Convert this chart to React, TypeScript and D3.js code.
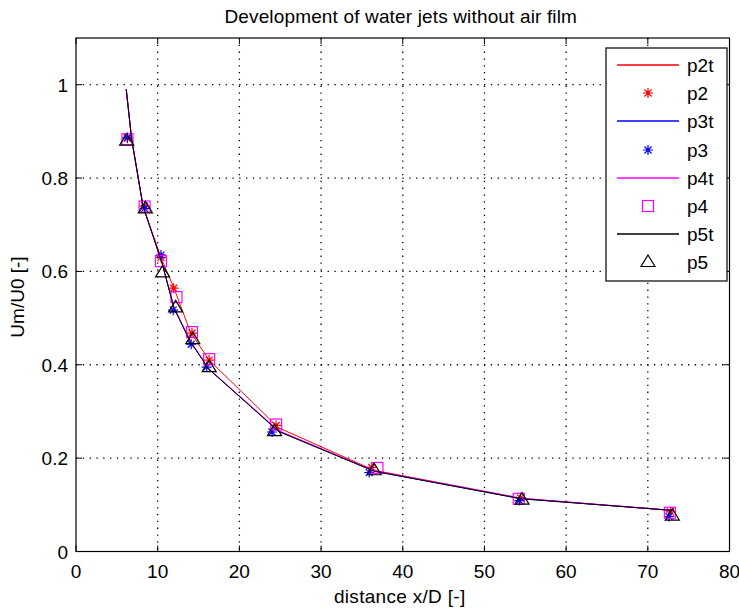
import React, { useRef, useEffect } from 'react'
import * as d3 from 'd3'

// measured points, x/D and Um/U0
const p2x = [6.3, 8.4, 10.4, 11.95, 14.2, 16.3, 24.5, 36.2, 54.4, 72.8]
const p2y = [0.885, 0.74, 0.63, 0.564, 0.468, 0.41, 0.27, 0.18, 0.115, 0.085]
const p3x = [6.3, 8.4, 10.4, 11.9, 14.1, 16.0, 24.0, 35.9, 54.3, 72.6]
const p3y = [0.887, 0.735, 0.635, 0.517, 0.444, 0.395, 0.256, 0.169, 0.109, 0.075]
const p4x = [6.3, 8.4, 10.4, 12.3, 14.2, 16.3, 24.5, 36.9, 54.2, 72.7]
const p4y = [0.883, 0.739, 0.622, 0.545, 0.47, 0.412, 0.272, 0.179, 0.113, 0.083]
const p5x = [6.2, 8.5, 10.6, 12.2, 14.3, 16.3, 24.3, 36.5, 54.6, 73.0]
const p5y = [0.88, 0.735, 0.598, 0.523, 0.455, 0.395, 0.258, 0.174, 0.111, 0.077]

// trend curves
const tx = [6.15, 6.8, 8.2, 10.5, 12.0, 14.0, 16.3, 24.8, 36.5, 54.5, 73.0]
const p2ty = [0.99, 0.885, 0.74, 0.625, 0.564, 0.47, 0.41, 0.265, 0.174, 0.114, 0.088]
const p3ty = [0.99, 0.885, 0.74, 0.62, 0.522, 0.45, 0.39, 0.258, 0.172, 0.113, 0.088]
const p4ty = [0.99, 0.885, 0.74, 0.62, 0.523, 0.451, 0.391, 0.259, 0.173, 0.114, 0.088]
const p5ty = [0.99, 0.885, 0.74, 0.62, 0.521, 0.449, 0.39, 0.257, 0.172, 0.113, 0.088]

const xTicks = [0, 10, 20, 30, 40, 50, 60, 70, 80]
const yTicks = [0, 0.2, 0.4, 0.6, 0.8, 1]
const legendNames = ['p2t', 'p2', 'p3t', 'p3', 'p4t', 'p4', 'p5t', 'p5']

const FONT = '"Liberation Sans", Arial, sans-serif'
const FS = '19px'

export default function App() {
  const svgRef = useRef<SVGSVGElement>(null)

  useEffect(() => {
    const svg = d3.select(svgRef.current)
    svg.selectAll('*').remove()

    const width = 739, height = 611
    const left = 76, right = 729.5, top = 38, bottom = 551.5
    const w = right - left, h = bottom - top

    const x = d3.scaleLinear().domain([0, 80]).range([0, w])
    const y = d3.scaleLinear().domain([0, 1.1]).range([h, 0])

    svg.append('rect').attr('width', width).attr('height', height).attr('fill', '#fff')

    svg.append('text')
      .attr('x', left + w / 2 - 2).attr('y', 23)
      .attr('text-anchor', 'middle').attr('font-family', FONT).attr('font-size', FS)
      .attr('letter-spacing', '0.15px')
      .text('Development of water jets without air film')

    const g = svg.append('g').attr('transform', `translate(${left},${top})`)

    // dotted grid
    g.selectAll('.gx').data(xTicks.slice(1, -1)).join('line')
      .attr('x1', d => x(d)).attr('x2', d => x(d)).attr('y1', 0).attr('y2', h)
      .attr('stroke', '#000').attr('stroke-width', 1.3).attr('stroke-dasharray', '1.3 5.5')
    g.selectAll('.gy').data(yTicks.slice(1)).join('line')
      .attr('x1', 0).attr('x2', w).attr('y1', d => y(d)).attr('y2', d => y(d))
      .attr('stroke', '#000').attr('stroke-width', 1.3).attr('stroke-dasharray', '1.3 5.5')

    // inward ticks on all sides
    const tl = 6
    xTicks.forEach(t => {
      g.append('line').attr('x1', x(t)).attr('x2', x(t)).attr('y1', h).attr('y2', h - tl).attr('stroke', '#000')
      g.append('line').attr('x1', x(t)).attr('x2', x(t)).attr('y1', 0).attr('y2', tl).attr('stroke', '#000')
      g.append('text').attr('x', x(t)).attr('y', h + 26.5).attr('text-anchor', 'middle')
        .attr('font-family', FONT).attr('font-size', FS).text(t)
    })
    yTicks.forEach(t => {
      g.append('line').attr('x1', 0).attr('x2', tl).attr('y1', y(t)).attr('y2', y(t)).attr('stroke', '#000')
      g.append('line').attr('x1', w).attr('x2', w - tl).attr('y1', y(t)).attr('y2', y(t)).attr('stroke', '#000')
      g.append('text').attr('x', -8).attr('y', y(t) + 7).attr('text-anchor', 'end')
        .attr('font-family', FONT).attr('font-size', FS).text(t)
    })

    g.append('rect').attr('width', w).attr('height', h).attr('fill', 'none').attr('stroke', '#000').attr('stroke-width', 1.2)

    g.append('text').attr('x', w / 2 - 3).attr('y', 603 - top).attr('text-anchor', 'middle')
      .attr('font-family', FONT).attr('font-size', FS).attr('letter-spacing', '0.3px').text('distance x/D [-]')
    svg.append('text').attr('transform', 'rotate(-90)')
      .attr('x', -297).attr('y', 24).attr('text-anchor', 'middle')
      .attr('font-family', FONT).attr('font-size', FS).text('Um/U0 [-]')

    const line = d3.line<[number, number]>().x(d => x(d[0])).y(d => y(d[1]))
    const zip = (a: number[], b: number[]) => a.map((v, i) => [v, b[i]] as [number, number])

    const star = (sel: any, c: string) => {
      sel.append('path').attr('d', 'M-5,0H5M0,-5V5M-3.5,-3.5L3.5,3.5M-3.5,3.5L3.5,-3.5')
        .attr('stroke', c).attr('stroke-width', 1.2).attr('fill', 'none')
    }
    const square = (sel: any, c: string) => {
      sel.append('rect').attr('x', -5.5).attr('y', -5.5).attr('width', 11).attr('height', 11)
        .attr('stroke', c).attr('stroke-width', 1.2).attr('fill', 'none')
    }
    const tri = (sel: any, c: string) => {
      sel.append('path').attr('d', 'M0,-7L7,4.5H-7Z')
        .attr('stroke', c).attr('stroke-width', 1.2).attr('fill', 'none')
    }

    const series = [
      { ty: p2ty, px: p2x, py: p2y, c: '#ff0000', m: star },
      { ty: p3ty, px: p3x, py: p3y, c: '#0000ff', m: star },
      { ty: p4ty, px: p4x, py: p4y, c: '#ff00ff', m: square },
      { ty: p5ty, px: p5x, py: p5y, c: '#000000', m: tri },
    ]

    series.forEach(s => {
      g.append('path').attr('d', line(zip(tx, s.ty))).attr('fill', 'none').attr('stroke', s.c).attr('stroke-width', 1)
      zip(s.px, s.py).forEach(p => {
        const mg = g.append('g').attr('transform', `translate(${x(p[0])},${y(p[1])})`)
        s.m(mg, s.c)
      })
    })

    // legend
    const lg = svg.append('g').attr('transform', 'translate(606,48)')
    lg.append('rect').attr('width', 121).attr('height', 233).attr('fill', '#fff').attr('stroke', '#000').attr('stroke-width', 1.2)
    legendNames.forEach((name, i) => {
      const s = series[Math.floor(i / 2)]
      const yy = Math.round(17 + i * 28.2)
      if (i % 2 === 0) {
        lg.append('line').attr('x1', 11).attr('x2', 73).attr('y1', yy).attr('y2', yy)
          .attr('stroke', s.c).attr('stroke-width', 1.3)
      } else {
        s.m(lg.append('g').attr('transform', `translate(42,${yy})`), s.c)
      }
      lg.append('text').attr('x', 81).attr('y', yy + 6.5).attr('font-family', FONT).attr('font-size', FS).text(name)
    })
  }, [])

  return <svg ref={svgRef} width={739} height={611} style={{ position: 'absolute', left: 0, top: 0 }} />
}
